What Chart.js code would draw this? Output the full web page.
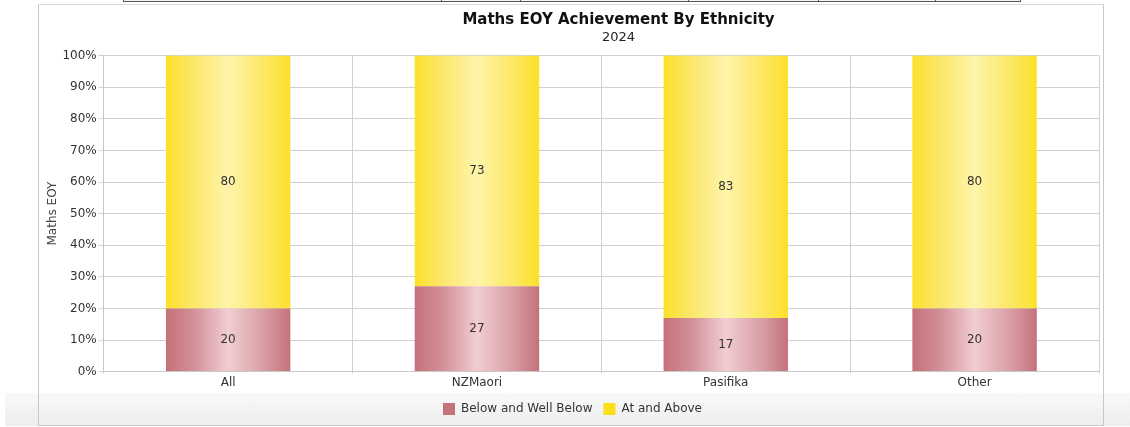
<!DOCTYPE html>
<html>
<head>
    <title>Maths EOY Achievement By Ethnicity</title>
    <script src="https://cdn.jsdelivr.net/npm/chart.js"></script>
    <style>
        body { margin: 0; background: #fff; font-family: "DejaVu Sans", sans-serif; }
        #wrap { position: relative; width: 1130px; height: 427px; overflow: hidden; }
        #topbar { position: absolute; left: 123px; top: -1px; width: 896px; height: 2px; border: 1px solid #555; border-top: none; background: #f4f4f4; }
        #topbar span { position: absolute; top: 0; width: 1px; height: 3px; background: #555; }
        #band { position: absolute; left: 5px; top: 393px; width: 1125px; height: 33px; background: linear-gradient(#f9f9f9, #ededed); }
        #frame { position: absolute; left: 38px; top: 4px; width: 1064px; height: 420px; border: 1px solid #c8c8c8; border-top-color: #d8d8d8; }
        canvas { position: absolute; left: 0; top: 0; }
    </style>
</head>
<body>
<div id="wrap">
    <div id="topbar"><span style="left:317px"></span><span style="left:396px"></span><span style="left:564px"></span><span style="left:694px"></span><span style="left:811px"></span></div>
    <div id="band"></div>
    <div id="frame"></div>
    <canvas id="myChart" width="1130" height="427"></canvas>
</div>

<script>
    var categories = ['All', 'NZMaori', 'Pasifika', 'Other'];
    var belowValues = [20, 27, 17, 20];
    var aboveValues = [80, 73, 83, 80];
    var yTicks = [0, 10, 20, 30, 40, 50, 60, 70, 80, 90, 100];

    var redStops = ['#c4727a', '#d28f96', '#f1cdd2', '#d9a0a6', '#c4727a'];
    var yellowStops = ['#fbe12a', '#fbe76a', '#fef4aa', '#fce867', '#fbe12a'];

    function barGradient(stops) {
        return function(context) {
            var chart = context.chart;
            var x = chart.scales.x;
            if (!chart.chartArea || !x) return stops[0];
            var half = (x.width / categories.length) * 0.25;
            var cx = x.getPixelForValue(context.dataIndex);
            var g = chart.ctx.createLinearGradient(cx - half, 0, cx + half, 0);
            g.addColorStop(0, stops[0]);
            g.addColorStop(0.22, stops[1]);
            g.addColorStop(0.5, stops[2]);
            g.addColorStop(0.78, stops[3]);
            g.addColorStop(1, stops[4]);
            return g;
        };
    }

    // numbers in the middle of each segment
    var segmentLabels = {
        id: 'segmentLabels',
        afterDatasetsDraw: function(chart) {
            var ctx = chart.ctx;
            ctx.save();
            ctx.font = '12px "DejaVu Sans"';
            ctx.fillStyle = '#333';
            ctx.textAlign = 'center';
            ctx.textBaseline = 'middle';
            chart.data.datasets.forEach(function(ds, i) {
                chart.getDatasetMeta(i).data.forEach(function(bar, j) {
                    ctx.fillText(ds.data[j], bar.x, (bar.y + bar.base) / 2);
                });
            });
            ctx.restore();
        }
    };

    // the original centres its title a bit right of the plot
    var titleShift = {
        id: 'titleShift',
        afterLayout: function(chart) {
            chart.boxes.forEach(function(box) {
                if (box.position === 'top' && box.options && box.options.text) {
                    box.left += 46;
                    box.right += 46;
                }
            });
        }
    };

    var ctx = document.getElementById('myChart').getContext('2d');
    var myChart = new Chart(ctx, {
        type: 'bar',
        data: {
            labels: categories,
            datasets: [{
                label: 'Below and Well Below',
                data: belowValues,
                backgroundColor: barGradient(redStops),
                legendColor: '#c4727a'
            }, {
                label: 'At and Above',
                data: aboveValues,
                backgroundColor: barGradient(yellowStops),
                legendColor: '#f9df1c'
            }]
        },
        options: {
            responsive: false,
            animation: false,
            datasets: { bar: { barPercentage: 1, categoryPercentage: 0.5 } },
            layout: { padding: { left: 46, right: 31, top: 0, bottom: 2 } },
            plugins: {
                title: {
                    display: true,
                    text: 'Maths EOY Achievement By Ethnicity',
                    color: '#111',
                    font: { family: 'DejaVu Sans', size: 15, weight: 'bold' },
                    padding: { top: 11, bottom: 0 }
                },
                subtitle: {
                    display: true,
                    text: '2024',
                    color: '#222',
                    font: { family: 'DejaVu Sans', size: 13 },
                    padding: { top: 1, bottom: 10 }
                },
                legend: {
                    position: 'bottom',
                    labels: {
                        color: '#333',
                        font: { family: 'DejaVu Sans', size: 12 },
                        boxWidth: 12,
                        boxHeight: 12,
                        padding: 11,
                        generateLabels: function(chart) {
                            return chart.data.datasets.map(function(ds, i) {
                                return { text: ds.label, fillStyle: ds.legendColor, strokeStyle: ds.legendColor, lineWidth: 0, datasetIndex: i, fontColor: '#333' };
                            });
                        }
                    }
                },
                tooltip: { enabled: false }
            },
            scales: {
                x: {
                    stacked: true,
                    grid: { color: '#d0d0d0', tickLength: 2 },
                    border: { color: '#c8c8c8' },
                    ticks: { color: '#333', font: { family: 'DejaVu Sans', size: 12 }, padding: 2 }
                },
                y: {
                    stacked: true,
                    min: 0,
                    max: 100,
                    afterBuildTicks: function(scale) {
                        scale.ticks = yTicks.map(function(v) { return { value: v }; });
                    },
                    grid: { color: '#d0d0d0', tickLength: 5 },
                    border: { color: '#c8c8c8' },
                    ticks: {
                        color: '#333',
                        font: { family: 'DejaVu Sans', size: 12 },
                        padding: 2,
                        callback: function(v) { return v + '%'; }
                    },
                    title: {
                        display: true,
                        text: 'Maths EOY',
                        color: '#444',
                        font: { family: 'DejaVu Sans', size: 12 },
                        padding: { top: 0, bottom: 0 }
                    }
                }
            }
        },
        plugins: [segmentLabels, titleShift]
    });
</script>
</body>
</html>
